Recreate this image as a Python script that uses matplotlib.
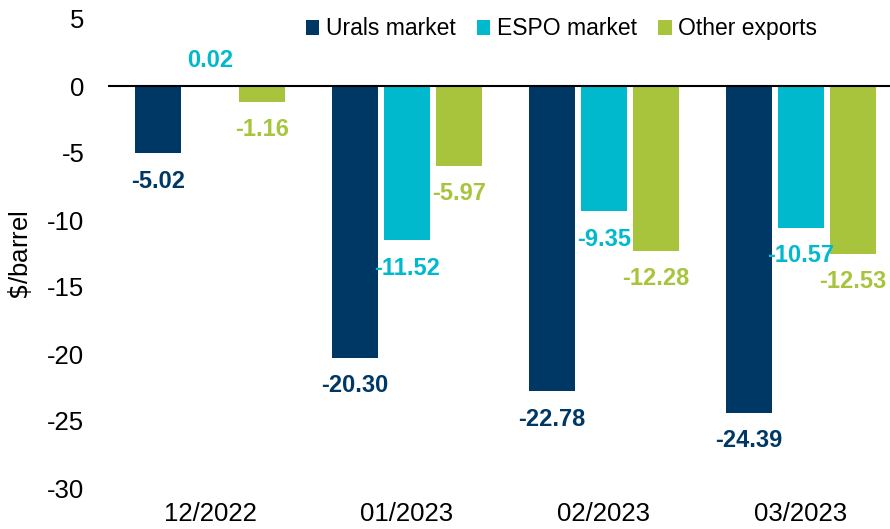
import matplotlib
matplotlib.use("Agg")
import matplotlib.pyplot as plt
import numpy as np

plt.rcParams["font.family"] = ["Liberation Sans", "DejaVu Sans"]
plt.rcParams["axes.unicode_minus"] = False

months = ["12/2022", "01/2023", "02/2023", "03/2023"]
urals = [-5.02, -20.30, -22.78, -24.39]
espo = [0.02, -11.52, -9.35, -10.57]
other = [-1.16, -5.97, -12.28, -12.53]

series = [
    ("Urals market", urals, "#003865"),
    ("ESPO market", espo, "#00B9CD"),
    ("Other exports", other, "#A8C43C"),
]

fig = plt.figure(figsize=(8.9, 5.29), dpi=100)
ax = fig.add_axes([108 / 890, 1 - 488 / 529, 1 - 108 / 890, (488 - 19) / 529])

x = np.arange(len(months))
width = 0.234
offsets = [-0.263, 0.0, 0.263]

for (name, vals, color), off in zip(series, offsets):
    ax.bar(x + off, vals, width, color=color, label=name)
    for xi, v in zip(x, vals):
        dy = 18 if v >= 0 else -20
        ax.annotate(f"{v:.2f}", (xi + off, v), xytext=(0, dy), textcoords="offset points",
                    ha="center", va="center", fontsize=17, fontweight="bold", color=color)

ax.axhline(0, color="black", linewidth=1.5)
ax.set_xlim(-0.518, 3.452)
ax.set_ylim(-30, 5)
ax.set_yticks(range(-30, 6, 5))
ax.set_xticks(x)
ax.set_xticklabels(months)
ax.tick_params(axis="both", length=0, labelsize=18.5)
ax.tick_params(axis="y", pad=17)
ax.tick_params(axis="x", pad=10)
for s in ax.spines.values():
    s.set_visible(False)
fig.text(20 / 890, 1 - 255 / 529, "$\\$$/barrel", rotation=90, ha="center", va="center",
         fontsize=18.5)

fig.legend(loc="upper left", bbox_to_anchor=(285 / 890, 1.006), ncol=3, frameon=False,
           fontsize=16.5, handlelength=0.6, handleheight=0.6, handletextpad=0.3,
           columnspacing=0.9)

fig.savefig("out.png", dpi=100)
